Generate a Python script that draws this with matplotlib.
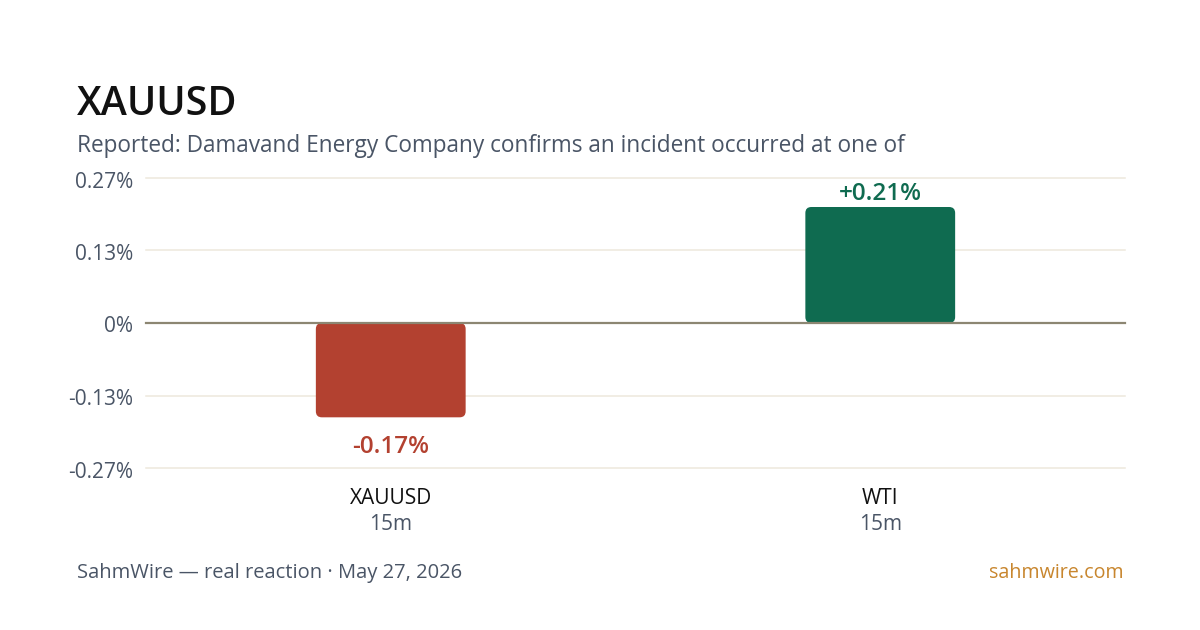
import matplotlib
matplotlib.use("Agg")
import matplotlib.pyplot as plt
from matplotlib.patches import FancyBboxPatch

categories = ["XAUUSD", "WTI"]
horizons = ["15m", "15m"]
values = [-0.174, 0.214]
tick_values = [-0.2675, -0.134, 0.0, 0.134, 0.2675]
tick_labels = ["-0.27%", "-0.13%", "0%", "0.13%", "0.27%"]
title = "XAUUSD"
subtitle = "Reported: Damavand Energy Company confirms an incident occurred at one of"
footer_left = "SahmWire \u2014 real reaction \u00b7 May 27, 2026"
footer_right = "sahmwire.com"

RED = "#b34130"
GREEN = "#0f6b50"
GRID = "#eee8dc"
ZERO = "#8c8672"
TXT = "#4a5566"

plt.rcParams["font.family"] = ["Open Sans", "DejaVu Sans"]

W, H = 1200, 630
fig = plt.figure(figsize=(12, 6.3), dpi=100, facecolor="white")
ax = fig.add_axes([146 / W, 1 - 468 / H, (1125 - 146) / W, (468 - 178) / H])
ax.set_facecolor("none")
ymax = tick_values[-1]
ax.set_xlim(-0.5, len(categories) - 0.5)
ax.set_ylim(-ymax, ymax)
for s in ax.spines.values():
    s.set_visible(False)
ax.set_xticks([])
ax.set_yticks([])

xpx = 2 / 979
ypx = 2 * ymax / 290

for tv, tl in zip(tick_values, tick_labels):
    if tv == 0:
        ax.axhline(0, color=ZERO, lw=1.6, zorder=3, clip_on=False)
    else:
        ax.axhline(tv, color=GRID, lw=1.1, zorder=0, clip_on=False)
    ax.text(-0.5 - 13 * xpx, tv - 4 * ypx, tl, ha="right", va="center",
            fontsize=15, color=TXT)

bw = 0.306
for i, (c, v) in enumerate(zip(categories, values)):
    col = GREEN if v >= 0 else RED
    y0 = min(0, v)
    p = FancyBboxPatch((i - bw / 2, y0), bw, abs(v),
                       boxstyle=f"round,pad=0,rounding_size={6 * xpx}",
                       mutation_aspect=ypx / xpx,
                       fc=col, ec="none", zorder=2)
    ax.add_patch(p)
    lab = f"{v:+.2f}%"
    if v >= 0:
        ax.text(i, v + 13 * ypx, lab, ha="center", va="center",
                fontsize=17.5, fontweight="semibold", color=col)
    else:
        ax.text(i, v - 30 * ypx, lab, ha="center", va="center",
                fontsize=17.5, fontweight="semibold", color=col)
    ax.text(i, -ymax - 30 * ypx, c, ha="center", va="center",
            fontsize=15, color="#111111")
    ax.text(i, -ymax - 56 * ypx, horizons[i], ha="center", va="center",
            fontsize=15, color=TXT)

fig.text(77 / W, 1 - 105 / H, title, ha="left", va="center",
         fontsize=28.5, fontweight="semibold", color="#111111")
fig.text(77 / W, 1 - 146 / H, subtitle, ha="left", va="center",
         fontsize=16.3, color=TXT)
fig.text(77 / W, 1 - 573 / H, footer_left, ha="left", va="center",
         fontsize=14.5, color=TXT)
fig.text(1124 / W, 1 - 573 / H, footer_right, ha="right", va="center",
         fontsize=14.2, color="#c8862e")

fig.savefig("out.png", dpi=100, facecolor="white")
